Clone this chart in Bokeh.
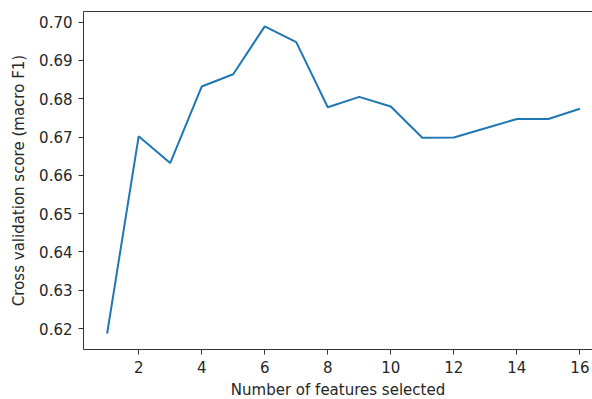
from bokeh.plotting import figure
from bokeh.models import Range1d, LinearAxis, FixedTicker
from bokeh.embed import file_html
from bokeh.resources import INLINE

n_features = [1, 2, 3, 4, 5, 6, 7, 8, 9, 10, 11, 12, 13, 14, 15, 16]
cv_scores = [0.6187, 0.6702, 0.6632, 0.6832, 0.6864, 0.6989, 0.6948, 0.6778,
             0.6805, 0.6780, 0.6698, 0.6699, 0.6723, 0.6747, 0.6747, 0.6774]
x_ticks = [2, 4, 6, 8, 10, 12, 14, 16]
y_ticks = [0.62, 0.63, 0.64, 0.65, 0.66, 0.67, 0.68, 0.69, 0.70]

FONT = "DejaVu Sans"
TXT = "#262626"

p = figure(frame_width=509, frame_height=338, output_backend="svg", toolbar_location=None,
           x_range=Range1d(0.25, 16.40), y_range=Range1d(0.61452, 0.70279),
           min_border_left=83, min_border_right=0, min_border_top=11, min_border_bottom=50)
p.outline_line_color = None
p.grid.visible = False
p.background_fill_color = "white"
p.border_fill_color = "white"

p.line(n_features, cv_scores, line_color="#1f77b4", line_width=2)

for ax in (p.xaxis[0], p.yaxis[0]):
    ax.axis_line_color = "#333333"
    ax.axis_line_width = 1
    ax.major_tick_line_color = "#333333"
    ax.major_tick_out = 5
    ax.major_tick_in = 0
    ax.minor_tick_line_color = None
    ax.major_label_text_font = FONT
    ax.major_label_text_font_size = "15px"
    ax.major_label_text_color = TXT
    ax.axis_label_text_font = FONT
    ax.axis_label_text_font_size = "15px"
    ax.axis_label_text_font_style = "normal"
    ax.axis_label_text_color = TXT

p.xaxis[0].ticker = FixedTicker(ticks=x_ticks)
p.yaxis[0].ticker = FixedTicker(ticks=y_ticks)
p.yaxis[0].major_label_overrides = {t: f"{t:.2f}" for t in y_ticks}
p.xaxis[0].axis_label = "Number of features selected"
p.yaxis[0].axis_label = "Cross validation score (macro F1)"
p.xaxis[0].major_label_standoff = 6
p.yaxis[0].major_label_standoff = 6
p.yaxis[0].axis_label_standoff = 8

top = LinearAxis(ticker=FixedTicker(ticks=[]), axis_line_color="#333333",
                 major_tick_line_color=None, minor_tick_line_color=None,
                 major_label_text_font_size="0px")
p.add_layout(top, "above")

open("out.html", "w").write(file_html(p, INLINE))
